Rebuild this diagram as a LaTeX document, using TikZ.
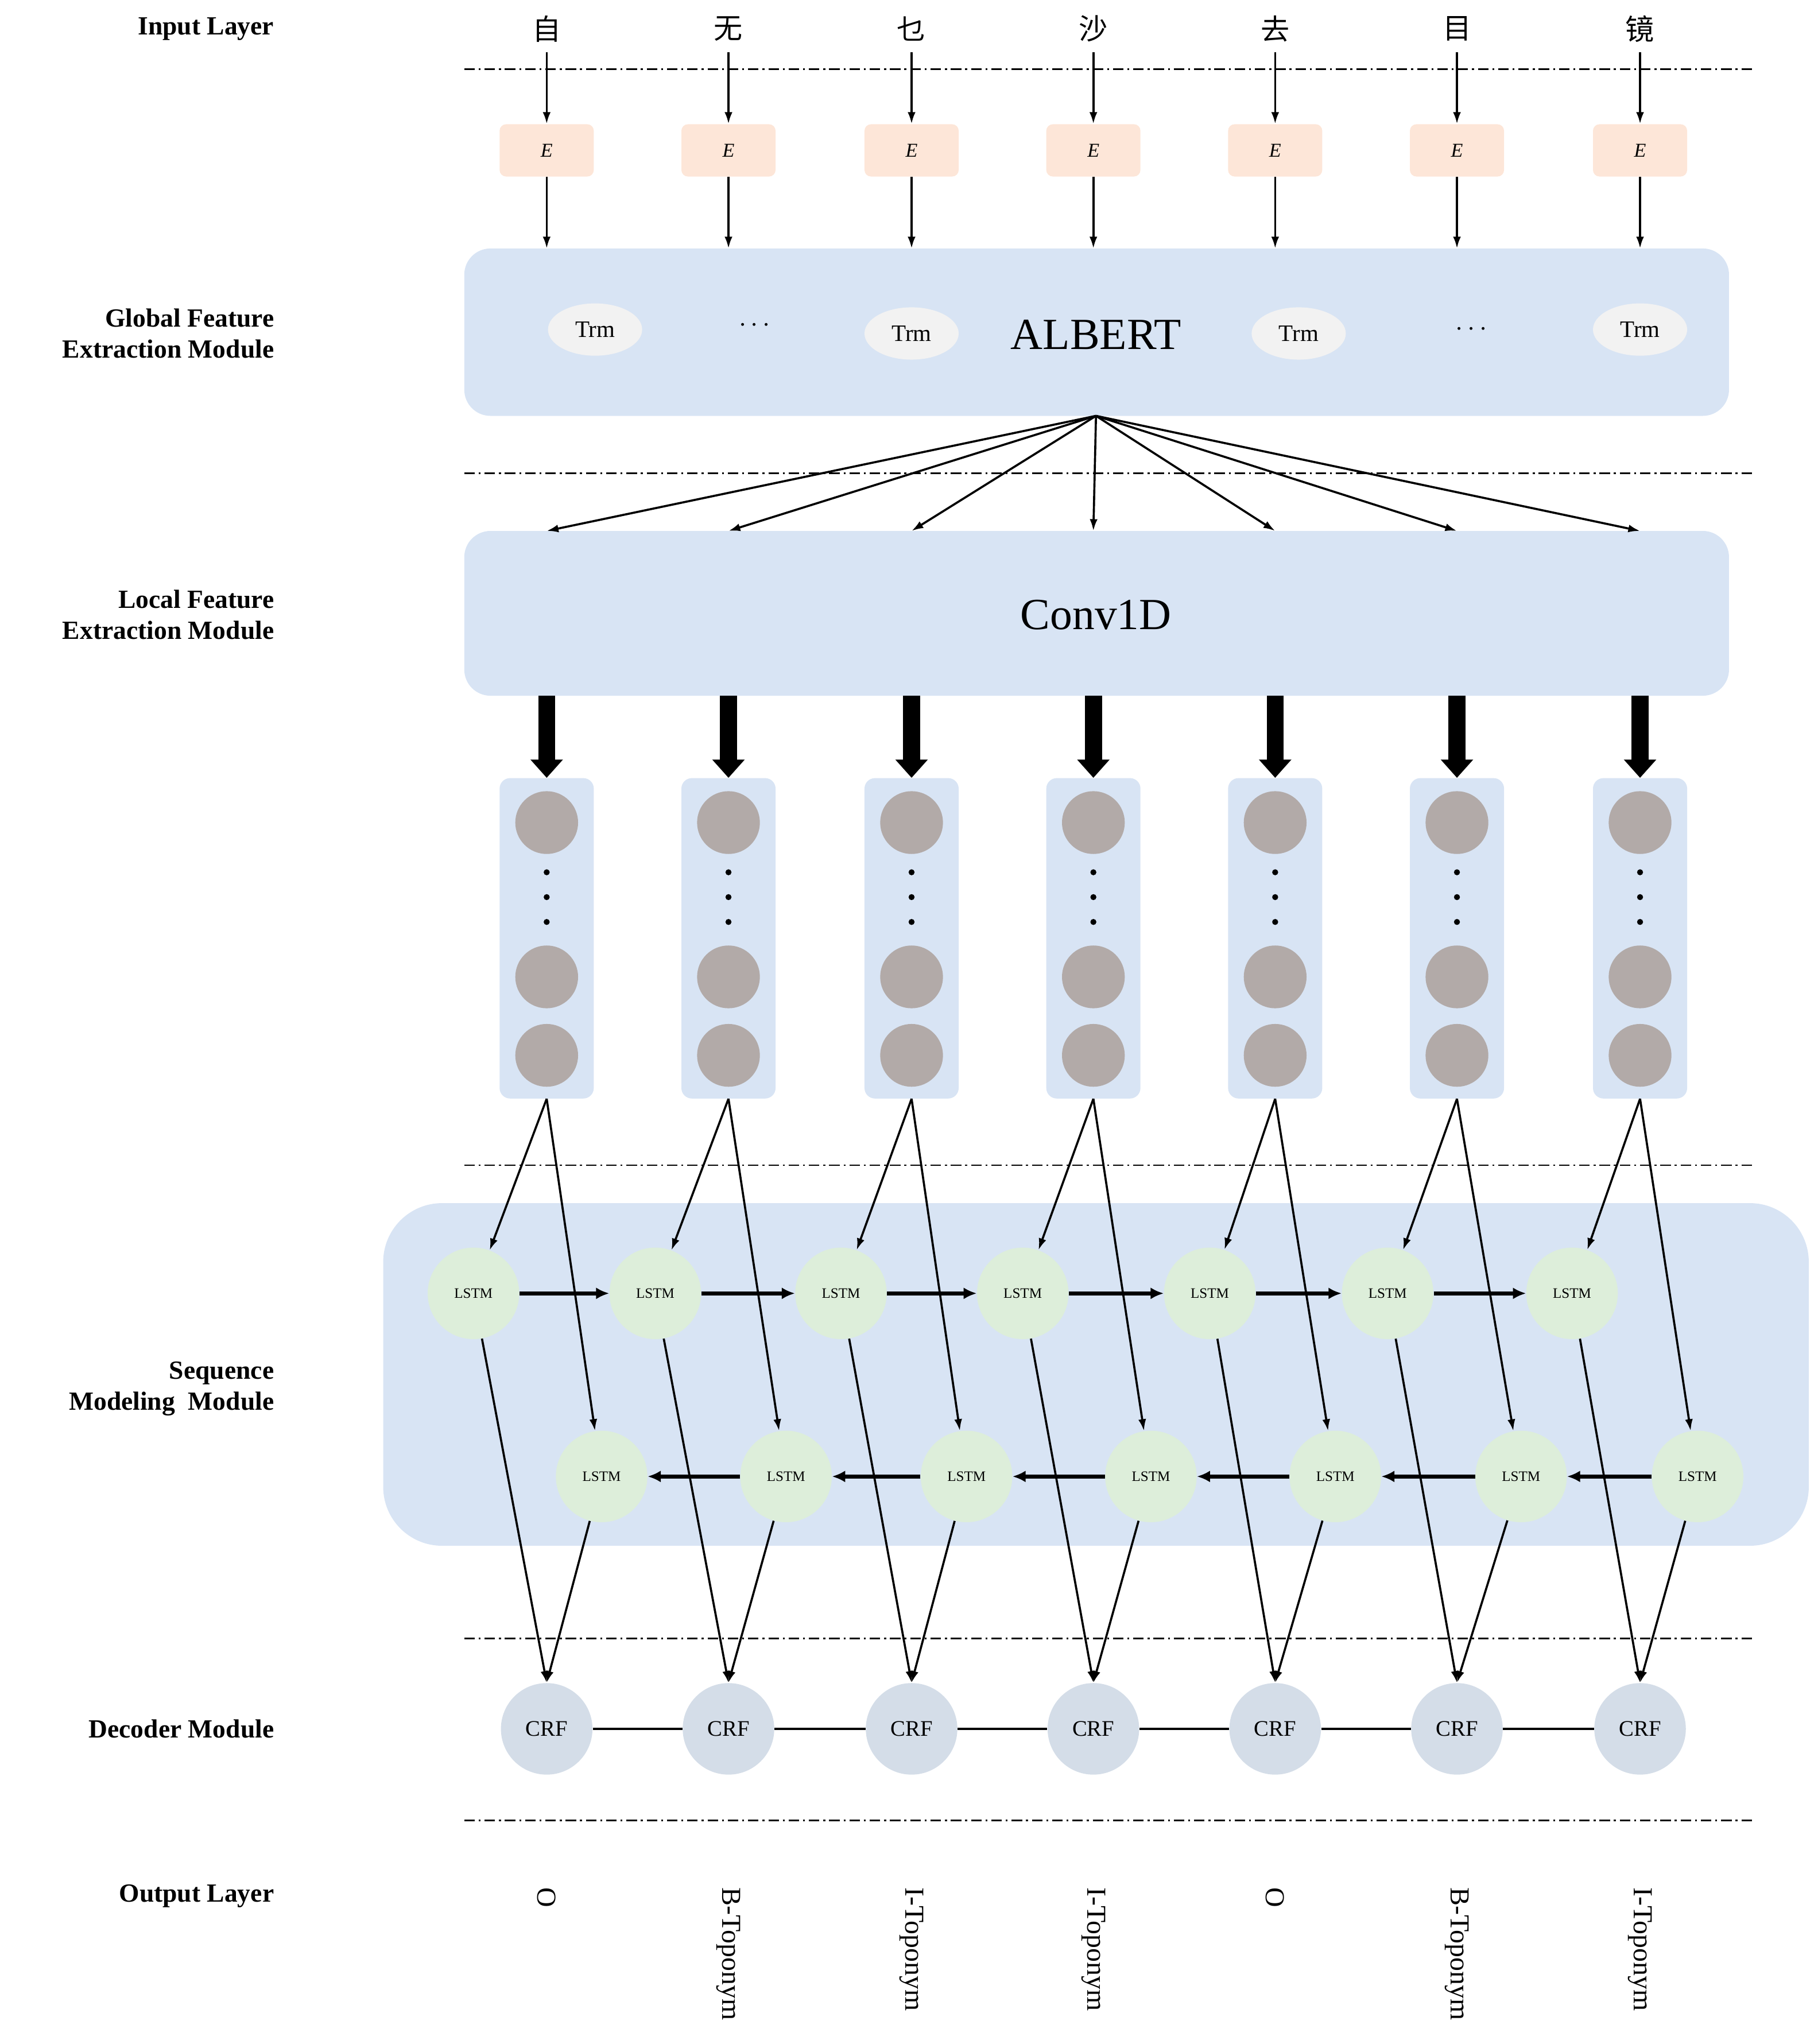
\documentclass[tikz,border=0pt]{standalone}
\usepackage{fontspec}
\setmainfont{Liberation Serif}
\newfontfamily\cjk{Noto Sans CJK SC}
\usetikzlibrary{arrows.meta}
\definecolor{boxblue}{RGB}{216,228,244}
\definecolor{peach}{RGB}{253,230,216}
\definecolor{trmgray}{RGB}{242,242,242}
\definecolor{neuron}{RGB}{178,170,168}
\definecolor{lstmg}{RGB}{221,238,218}
\definecolor{crfc}{RGB}{212,221,232}
\tikzset{
  sep/.style={line width=1.2pt, dash pattern=on 8pt off 3pt on 1.5pt off 3pt},
  arr/.style={-{Latex[length=9pt,width=6pt]}, line width=1.6pt},
  tarr/.style={-{Latex[length=10pt,width=9pt]}, line width=3pt},
  big/.style={-{Triangle[length=14pt,width=24pt]}, line width=13pt},
  lab/.style={font=\fontsize{20}{24}\selectfont\bfseries, align=right, anchor=east},
  ebox/.style={fill=peach, rounded corners=5pt, minimum width=72pt, minimum height=40pt, inner sep=0pt, font=\fontsize{15}{18}\selectfont\itshape},
  trm/.style={ellipse, fill=trmgray, minimum width=72pt, minimum height=40pt, inner sep=0pt, font=\fontsize{18}{20}\selectfont},
  lstm/.style={circle, fill=lstmg, minimum size=70pt, inner sep=0pt, font=\fontsize{11}{12}\selectfont},
  crf/.style={circle, fill=crfc, minimum size=70pt, inner sep=0pt, font=\fontsize{17}{20}\selectfont},
  neu/.style={circle, fill=neuron, minimum size=48pt, inner sep=0pt},
  outl/.style={rotate=-90, anchor=west, font=\fontsize{21}{24}\selectfont},
}
\usetikzlibrary{shapes.geometric}
\begin{document}
\begin{tikzpicture}[x=1pt,y=-1pt]
\useasboundingbox (0,0) rectangle (1390,1563);
% left labels
\node[lab] at (213,22) {Input Layer};
\node[lab] at (213,255) {Global Feature\\Extraction Module};
\node[lab] at (213,470) {Local Feature\\Extraction Module};
\node[lab] at (213,1062) {Sequence\\Modeling\ \ Module};
\node[lab] at (213,1322) {Decoder Module};
\node[lab] at (213,1450) {Output Layer};
% separators
\foreach \y in {53,362,891,1253,1392} \draw[sep] (355,\y) -- (1342,\y);
% big boxes
\node[fill=boxblue, rounded corners=20pt, minimum width=967pt, minimum height=128pt, inner sep=0pt] (alb) at (838.5,254) {};
\node[font=\fontsize{34}{40}\selectfont] (albt) at (838,256) {ALBERT};
\coordinate (albs) at (838,318);
\node[fill=boxblue, rounded corners=20pt, minimum width=967pt, minimum height=126pt, inner sep=0pt] (conv) at (838.5,469) {};
\node[font=\fontsize{34}{40}\selectfont] at (838,470) {Conv1D};
\node[fill=boxblue, rounded corners=45pt, minimum width=1090pt, minimum height=262pt, inner sep=0pt] (seq) at (838,1051) {};
% Trm
\node[trm] at (455,252) {Trm};
\node[trm] at (697,255) {Trm};
\node[trm] at (993,255) {Trm};
\node[trm] at (1254,252) {Trm};
\node[font=\fontsize{20}{20}\selectfont] at (577,249) {$\cdots$};
\node[font=\fontsize{20}{20}\selectfont] at (1125,252) {$\cdots$};
% columns
\def\chars{{"自","无","乜","沙","去","目","镜"}}
\def\outs{{"O","B-Toponym","I-Toponym","I-Toponym","O","B-Toponym","I-Toponym"}}
\foreach \x [count=\i] in {418,557,697,836,975,1114,1254}{
  \pgfmathsetmacro{\ch}{\chars[\i-1]}
  \pgfmathsetmacro{\ot}{\outs[\i-1]}
  \node[font=\cjk\fontsize{22}{24}\selectfont, inner sep=0pt] (ch\i) at (\x,22) {\ch};
  \coordinate (chs\i) at (\x,40);
  \node[ebox] (e\i) at (\x,115) {E};
  \coordinate (gt\i) at (\x,190);
  \coordinate (ct\i) at (\x,406);
  \coordinate (cb\i) at (\x,532);
  \node[fill=boxblue, rounded corners=8pt, minimum width=72pt, minimum height=245pt, inner sep=0pt] (col\i) at (\x,717.5) {};
  \node[neu] at (\x,629) {};
  \node[neu] at (\x,747) {};
  \node[neu] at (\x,807) {};
  \foreach \d in {667,686,705} \fill (\x,\d) circle (2.3pt);
  \node[crf] (crf\i) at (\x,1322) {CRF};
  \node[outl] at (\x,1440) {\ot};
  \draw[arr] (chs\i) -- (e\i.north);
  \draw[arr] (e\i.south) -- (gt\i);
  \draw[arr] (albs) -- (ct\i);
  \draw[big] (cb\i) -- (col\i.north);
}
% LSTMs
\foreach \x [count=\i] in {362,501,643,782,925,1061,1202} \node[lstm] (t\i) at (\x,989) {LSTM};
\foreach \x [count=\i] in {460,601,739,880,1021,1163,1298} \node[lstm] (b\i) at (\x,1129) {LSTM};
\foreach \i in {1,...,7}{
  \draw[arr] (col\i.south) -- (t\i);
  \draw[arr] (col\i.south) -- (b\i);
  \draw[arr] (t\i) -- (crf\i.north);
  \draw[arr] (b\i) -- (crf\i.north);
}
\foreach \i [evaluate=\i as \j using int(\i+1)] in {1,...,6}{
  \draw[tarr] (t\i) -- (t\j);
  \draw[tarr] (b\j) -- (b\i);
  \draw[line width=1.6pt] (crf\i) -- (crf\j);
}
\end{tikzpicture}
\end{document}
